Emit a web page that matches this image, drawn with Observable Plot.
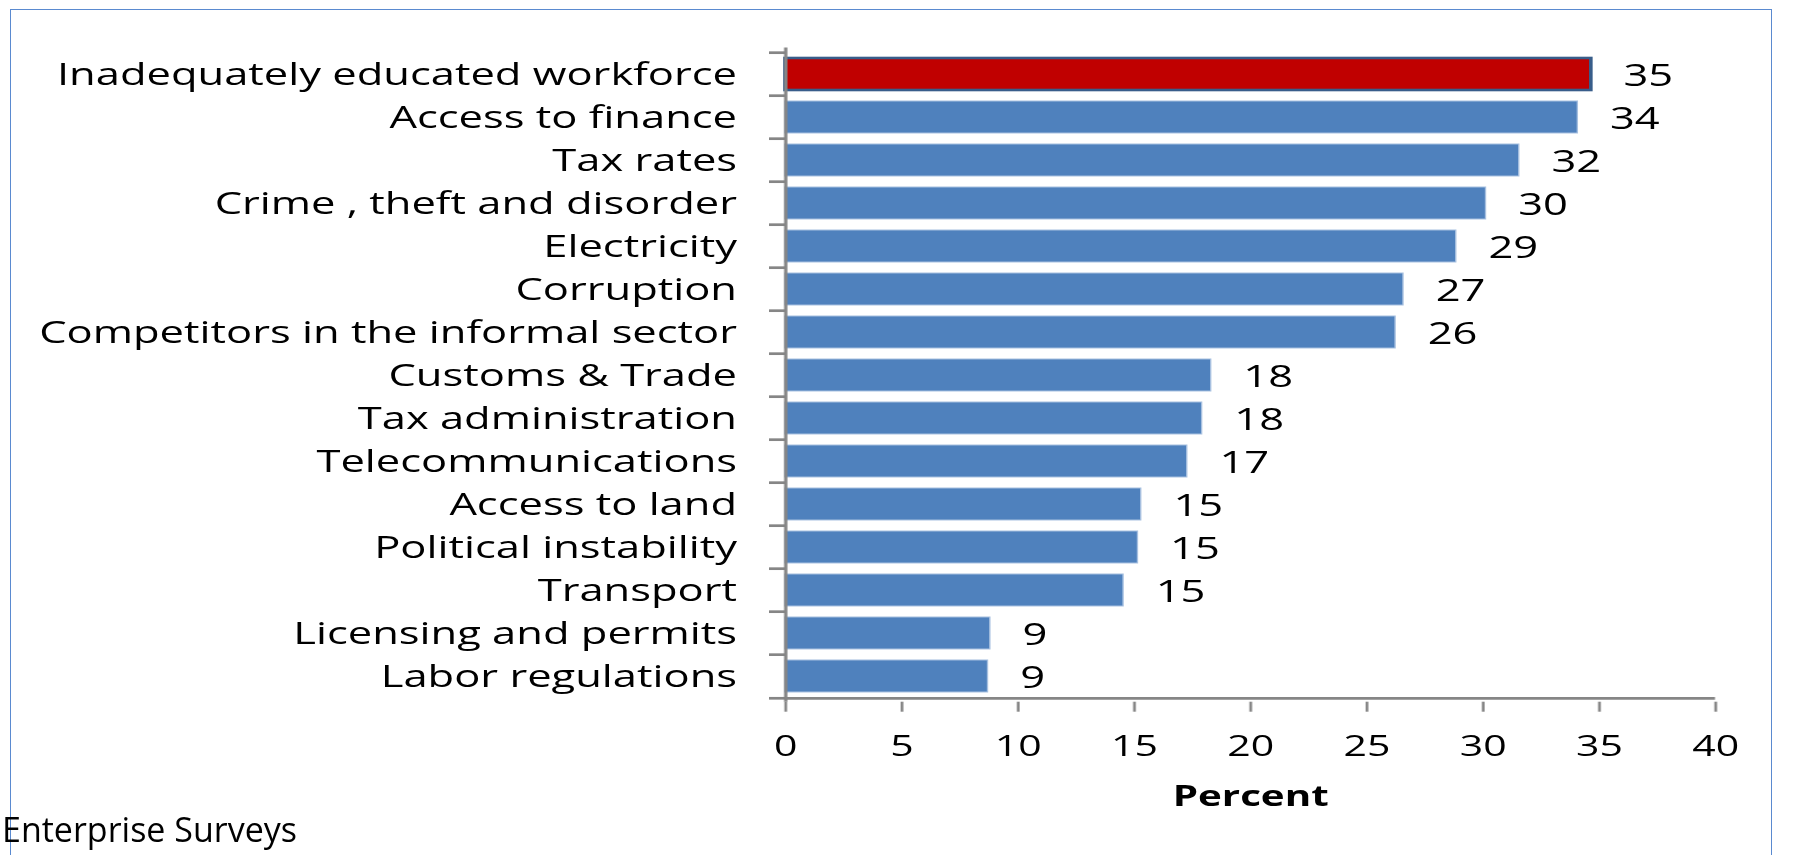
<!DOCTYPE html>
<html>
<head>
<meta charset="utf-8">
<script src="https://cdn.jsdelivr.net/npm/d3@7"></script>
<script src="https://cdn.jsdelivr.net/npm/@observablehq/plot@0.6"></script>
<style>
html, body { margin: 0; padding: 0; background: #fff; overflow: hidden; }
#page { position: relative; width: 1797px; height: 855px; overflow: hidden; background: #fff; }
#frame { position: absolute; left: 10px; top: 9px; width: 1760px; height: 900px; border: 1.5px solid #5a8ad0; border-bottom: none; }
#chart { position: absolute; left: 0; top: 0; transform-origin: 0 0; }
#source { position: absolute; left: 2px; top: 812px; font-family: "Open Sans", sans-serif; font-size: 34px; line-height: 1; color: #000; white-space: nowrap; }
</style>
</head>
<body>
<div id="page">
  <div id="frame"></div>
  <div id="chart"></div>
  <div id="source"></div>
</div>
<script>
// ---- data ----
const categories = [
  "Inadequately educated workforce",
  "Access to finance",
  "Tax rates",
  "Crime , theft and disorder",
  "Electricity",
  "Corruption",
  "Competitors in the informal sector",
  "Customs & Trade",
  "Tax administration",
  "Telecommunications",
  "Access to land",
  "Political instability",
  "Transport",
  "Licensing and permits",
  "Labor regulations"
];
const values = [34.66, 34.08, 31.56, 30.13, 28.85, 26.58, 26.24, 18.31, 17.92, 17.28, 15.30, 15.16, 14.54, 8.81, 8.71];
const highlighted = ["Inadequately educated workforce"];
const xTicks = [0, 5, 10, 15, 20, 25, 30, 35, 40];
const xDomain = [0, 40];
const xLabel = ["Percent"];
const sourceText = "Enterprise Surveys";

// ---- layout ----
const K = 1.39;            // horizontal stretch of the original chart
const W = 1797 / K;
const H = 855;
const MT = 47.5, MB = 855 - 701.7;
const ML = 785 / K, MR = (1797 - 1715) / K;
const step = (H - MT - MB) / categories.length;
const axisGray = "#868686";

const data = categories.map((name, i) => ({name, value: values[i], hi: highlighted.includes(name)}));

const chart = Plot.plot({
  width: W,
  height: H,
  marginTop: MT,
  marginBottom: MB,
  marginLeft: ML,
  marginRight: MR,
  style: {fontFamily: "Open Sans, sans-serif", fontSize: "31px", color: "#000", background: "transparent", overflow: "visible"},
  x: {domain: xDomain},
  y: {domain: categories, paddingInner: 0.266, paddingOuter: 0.133},
  marks: [
    Plot.barX(data, {
      x: "value", y: "name",
      fill: d => d.hi ? "#C00000" : "#4F81BD",
      stroke: d => d.hi ? "#385D8A" : "#A7C0E0",
      strokeWidth: d => d.hi ? 2.6 : 1
    }),
    Plot.text(data, {
      x: "value", y: "name",
      text: d => String(Math.round(d.value)),
      textAnchor: "start", dx: 23, dy: 1,
      fontSize: 31.3, fill: "#000"
    }),
    // y axis labels
    Plot.axisY({tickSize: 0, tickPadding: 35, fontSize: 31.3, label: null, fill: "#000"}),
    // y axis boundary ticks (Excel style, between categories)
    Plot.axisY({tickSize: 11.5, text: null, dy: -step / 2, stroke: axisGray, strokeWidth: 2.7, label: null}),
    Plot.axisY({ticks: [categories[categories.length - 1]], tickSize: 11.5, text: null, dy: step / 2, stroke: axisGray, strokeWidth: 2.7, label: null}),
    // axis lines
    Plot.ruleX([0], {stroke: axisGray, strokeWidth: 2.4}),
    Plot.ruleY([categories[categories.length - 1]], {dy: step / 2, stroke: axisGray, strokeWidth: 2.7}),
    // x axis
    Plot.axisX({ticks: xTicks, tickSize: 10, tickPadding: 23, stroke: axisGray, strokeWidth: 2, fontSize: 29.5, fill: "#000", label: null}),
    Plot.text(xLabel, {frameAnchor: "bottom", dy: 104, fontWeight: "bold", fontSize: 29, fill: "#000"})
  ]
});

const holder = document.getElementById("chart");
holder.appendChild(chart);
holder.style.transform = `scaleX(${K})`;
document.getElementById("source").textContent = sourceText;
</script>
</body>
</html>
